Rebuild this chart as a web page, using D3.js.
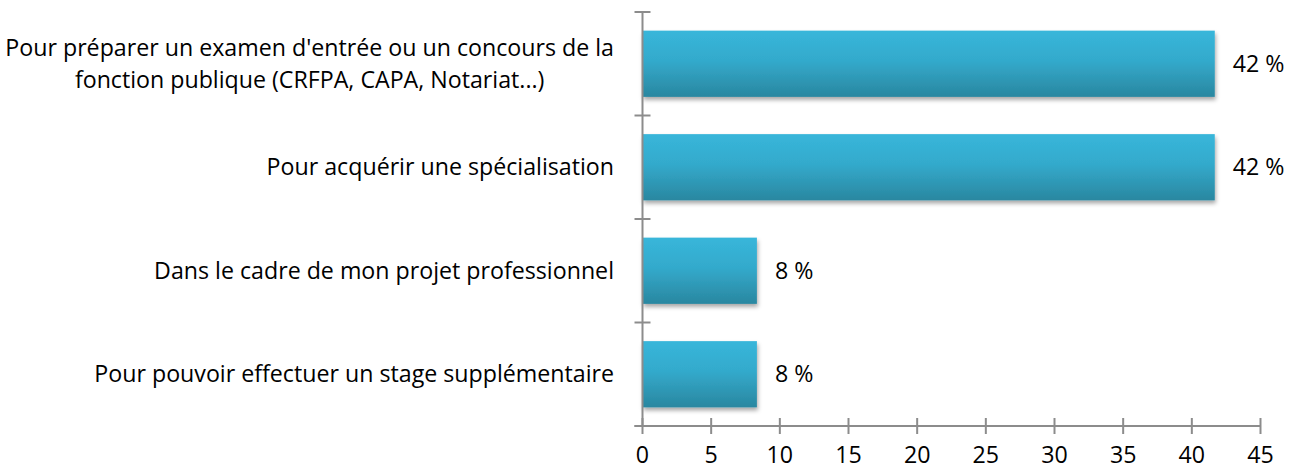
<!DOCTYPE html>
<html>
<head>
<meta charset="utf-8">
<script src="https://cdn.jsdelivr.net/npm/d3@7"></script>
<style>
  body { margin: 0; background: #fff; }
  text { font-family: "Open Sans", Lato, sans-serif; fill: #000; }
</style>
</head>
<body>
<div id="chart"></div>
<script>
document.addEventListener("DOMContentLoaded", function () {
    // Data
    const categories = [
        ["Pour préparer un examen d'entrée ou un concours de la", "fonction publique (CRFPA, CAPA, Notariat...)"],
        ["Pour acquérir une spécialisation"],
        ["Dans le cadre de mon projet professionnel"],
        ["Pour pouvoir effectuer un stage supplémentaire"]
    ];
    const values = [41.67, 41.67, 8.33, 8.33];
    const xTicks = [0, 5, 10, 15, 20, 25, 30, 35, 40, 45];

    const W = 1299, H = 475;
    const left = 642.5, right = 1260.5, top = 12, bottom = 426;
    const fontSize = 23.2;

    const svg = d3.select("#chart").append("svg")
        .attr("width", W)
        .attr("height", H);

    const defs = svg.append("defs");
    const grad = defs.append("linearGradient")
        .attr("id", "barGrad")
        .attr("x1", 0).attr("y1", 0).attr("x2", 0).attr("y2", 1);
    grad.append("stop").attr("offset", "0%").attr("stop-color", "#38b6da");
    grad.append("stop").attr("offset", "45%").attr("stop-color", "#33aacc");
    grad.append("stop").attr("offset", "100%").attr("stop-color", "#2a87a0");

    const shadow = defs.append("filter")
        .attr("id", "shadow")
        .attr("x", "-10%").attr("y", "-10%")
        .attr("width", "120%").attr("height", "140%");
    shadow.append("feDropShadow")
        .attr("dx", 1).attr("dy", 3)
        .attr("stdDeviation", 2)
        .attr("flood-color", "#000")
        .attr("flood-opacity", 0.35);

    const ids = categories.map((d, i) => i);

    const x = d3.scaleLinear()
        .domain([0, 45])
        .range([left, right]);

    const y = d3.scaleBand()
        .domain(ids)
        .range([top, bottom])
        .paddingInner(0.36)
        .paddingOuter(0.18);

    const axisColor = "#8c8c8c";

    // Bars
    svg.selectAll(".bar")
        .data(values)
        .enter()
        .append("rect")
        .attr("class", "bar")
        .attr("x", x(0))
        .attr("y", (d, i) => y(i))
        .attr("width", d => x(d) - x(0))
        .attr("height", y.bandwidth())
        .attr("fill", "url(#barGrad)")
        .attr("filter", "url(#shadow)");

    // Y axis line and ticks at band boundaries
    svg.append("line")
        .attr("x1", left).attr("x2", left)
        .attr("y1", top).attr("y2", bottom)
        .attr("stroke", axisColor)
        .attr("stroke-width", 2);

    const bounds = d3.range(categories.length + 1)
        .map(i => top + i * y.step());
    svg.selectAll(".ytick")
        .data(bounds)
        .enter()
        .append("line")
        .attr("x1", left - 8).attr("x2", left + 8)
        .attr("y1", d => d).attr("y2", d => d)
        .attr("stroke", axisColor)
        .attr("stroke-width", 2);

    // X axis
    svg.append("line")
        .attr("x1", left - 8).attr("x2", right)
        .attr("y1", bottom).attr("y2", bottom)
        .attr("stroke", axisColor)
        .attr("stroke-width", 2);

    svg.selectAll(".xtick")
        .data(xTicks)
        .enter()
        .append("line")
        .attr("x1", d => x(d)).attr("x2", d => x(d))
        .attr("y1", bottom - 8).attr("y2", bottom + 8)
        .attr("stroke", axisColor)
        .attr("stroke-width", 2);

    svg.selectAll(".xlabel")
        .data(xTicks)
        .enter()
        .append("text")
        .attr("x", d => x(d))
        .attr("y", 463)
        .attr("text-anchor", "middle")
        .attr("font-size", fontSize)
        .text(d => d);

    // Category labels
    const labelRight = 614;
    const lineH = 32;
    categories.forEach((lines, i) => {
        const cy = y(i) + y.bandwidth() / 2;
        const g = svg.append("text")
            .attr("font-size", fontSize)
            .attr("text-anchor", lines.length > 1 ? "middle" : "end");
        const tspans = g.selectAll("tspan")
            .data(lines)
            .enter()
            .append("tspan")
            .attr("y", (d, j) => cy + 8 + (j - (lines.length - 1) / 2) * lineH)
            .text(d => d);
        if (lines.length > 1) {
            const wMax = d3.max(tspans.nodes(), n => n.getComputedTextLength());
            tspans.attr("x", labelRight - wMax / 2);
        } else {
            tspans.attr("x", labelRight);
        }
    });

    // Value labels
    svg.selectAll(".vlabel")
        .data(values)
        .enter()
        .append("text")
        .attr("x", d => x(d) + 18)
        .attr("y", (d, i) => y(i) + y.bandwidth() / 2 + 8)
        .attr("font-size", fontSize)
        .text(d => Math.round(d) + " %");
});
</script>
</body>
</html>
